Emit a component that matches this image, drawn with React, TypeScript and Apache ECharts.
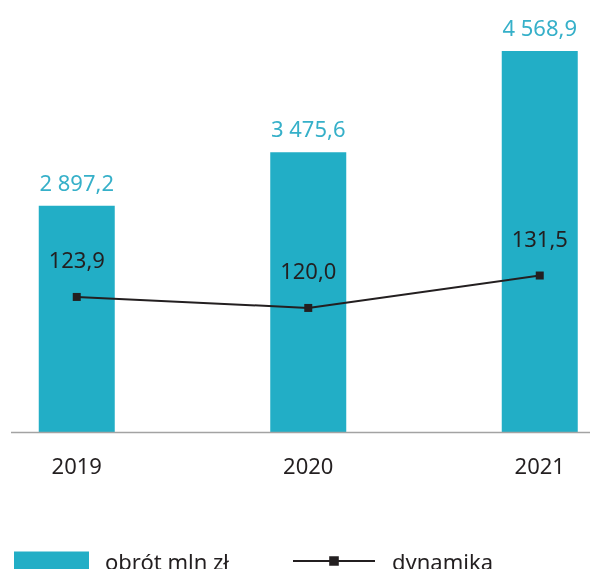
import React, { useEffect, useRef } from "react";
import * as echarts from "echarts";

const categories = ["2019", "2020", "2021"];
const turnover = [2897.2, 3475.6, 4568.9];
const dynamics = [123.9, 120.0, 131.5];
const seriesNames = ["obrót mln zł", "dynamika"];

function fmtPl(v: number): string {
  const [i, d] = v.toFixed(1).split(".");
  const ii = i.replace(/\B(?=(\d{3})+(?!\d))/g, " ");
  return ii + "," + d;
}

export default function App() {
  const ref = useRef<HTMLDivElement>(null);
  useEffect(() => {
    const chart = echarts.init(ref.current!, null, { renderer: "svg" });
    const font = "'Noto Sans', sans-serif";
    const dark = "#231f20";
    chart.setOption({
      animation: false,
      textStyle: { fontFamily: font },
      grid: {
        left: -39,
        right: -65.5,
        top: 26,
        bottom: 137,
        outerBoundsMode: "none",
      },
      xAxis: {
        type: "category",
        data: categories,
        axisLine: { show: false },
        axisTick: { show: false },
        axisLabel: { fontSize: 22, color: dark, margin: 22, fontFamily: font },
      },
      yAxis: [
        { type: "value", min: 450, max: 4840, show: false },
        { type: "value", min: 76, max: 220, show: false },
      ],
      legend: [
        {
          data: [seriesNames[0]],
          left: 14,
          top: 550,
          padding: 0,
          itemWidth: 75,
          itemHeight: 19,
          icon: "rect",
          textStyle: { fontSize: 22, color: dark, fontFamily: font, padding: [0, 0, 0, 11] },
        },
        {
          data: [seriesNames[1]],
          left: 292,
          top: 550,
          padding: 0,
          itemWidth: 82,
          itemHeight: 12,
          textStyle: { fontSize: 22, color: dark, fontFamily: font, padding: [0, 0, 0, 12] },
        },
      ],
      graphic: [
        {
          type: "line",
          shape: { x1: 11, y1: 432.5, x2: 590, y2: 432.5 },
          style: { stroke: "#a3a3a3", lineWidth: 1.3 },
          z: 10,
        },
      ],
      series: [
        {
          name: seriesNames[0],
          type: "bar",
          data: turnover,
          barWidth: 76,
          itemStyle: { color: "#22aec6" },
          label: {
            show: true,
            position: "top",
            distance: 13,
            fontSize: 22,
            color: "#36b0c9",
            fontFamily: font,
            formatter: (p: any) => fmtPl(p.value),
          },
        },
        {
          name: seriesNames[1],
          type: "line",
          yAxisIndex: 1,
          data: dynamics,
          symbol: "rect",
          symbolSize: 8,
          lineStyle: { color: dark, width: 2 },
          itemStyle: { color: dark },
          label: {
            show: true,
            position: "top",
            distance: 23,
            fontSize: 22,
            color: dark,
            fontFamily: font,
            formatter: (p: any) => fmtPl(p.value),
          },
        },
      ],
    });
    return () => chart.dispose();
  }, []);
  return (
    <div
      ref={ref}
      style={{ position: "fixed", left: 0, top: 0, width: 590, height: 569 }}
    />
  );
}
